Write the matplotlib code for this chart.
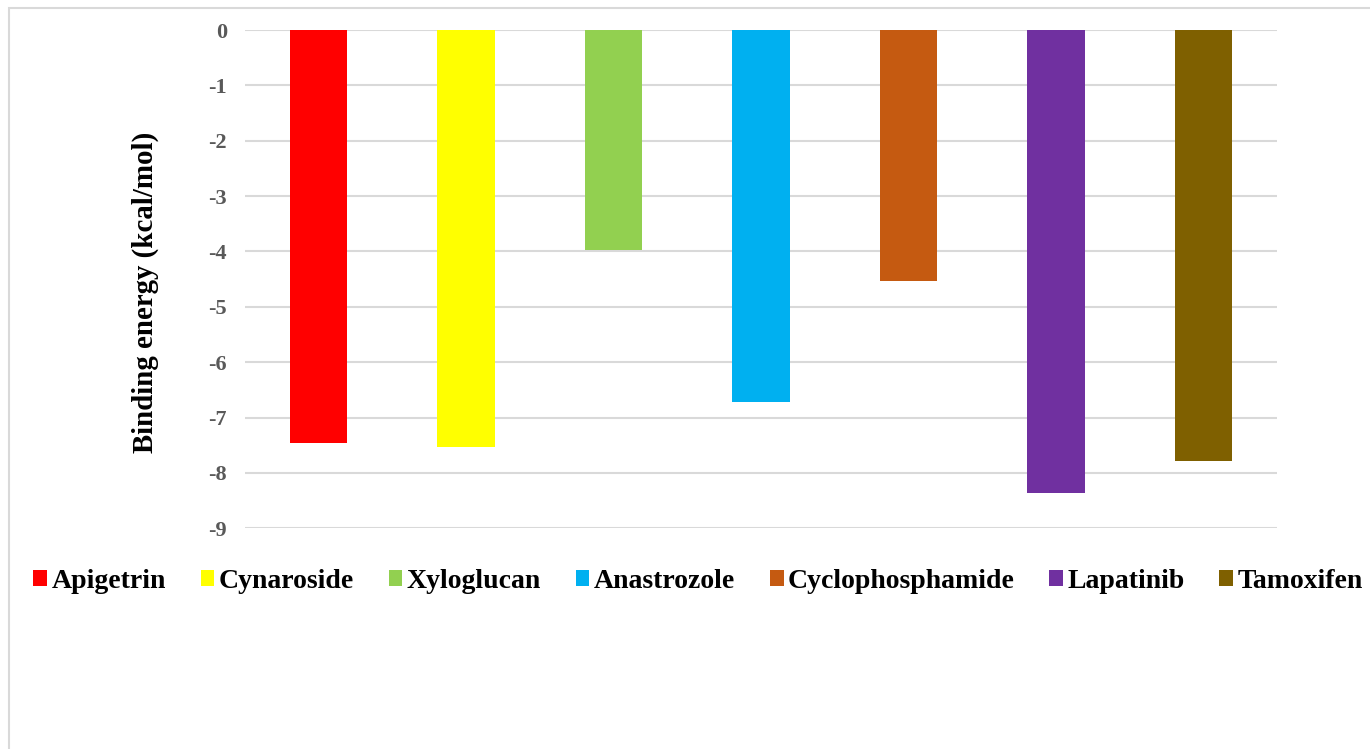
import matplotlib
matplotlib.use("Agg")
import matplotlib.pyplot as plt
from matplotlib.patches import Patch, Rectangle

compounds = ["Apigetrin", "Cynaroside", "Xyloglucan", "Anastrozole",
             "Cyclophosphamide", "Lapatinib", "Tamoxifen"]
binding_energy = [-7.46, -7.53, -3.97, -6.71, -4.53, -8.36, -7.79]
colors = ["#FF0000", "#FFFF00", "#92D050", "#00B0F0",
          "#C55A11", "#7030A0", "#7F6000"]
yticks = [0, -1, -2, -3, -4, -5, -6, -7, -8, -9]

plt.rcParams['font.family'] = ['Liberation Serif', 'DejaVu Serif']

fig = plt.figure(figsize=(13.7, 7.49), dpi=100)
ax = fig.add_axes([245/1370, 1-528.3/749, (1277-245)/1370, (528.3-30)/749])

x = list(range(len(compounds)))
ax.bar(x, binding_energy, width=0.39, color=colors, zorder=3)

ax.set_xlim(-0.5, len(compounds)-0.5)
ax.set_ylim(-9, 0)
ax.set_yticks(yticks)
ax.set_yticklabels([str(t) for t in yticks], fontsize=16, fontweight='bold', color='#595959')
ax.tick_params(axis='y', length=0, pad=13)
ax.set_xticks([])
ax.yaxis.grid(True, color='#D9D9D9', linewidth=1.5, zorder=0)
for s in ax.spines.values():
    s.set_visible(False)
ax.set_ylabel("Binding energy (kcal/mol)", fontsize=20.8, fontweight='bold', color='black')
ax.yaxis.set_label_coords(-(245-159)/1032, 0.5 - 13/498.3)

handles = [Patch(facecolor=c, edgecolor='none', label=n) for c, n in zip(colors, compounds)]
fig.legend(handles=handles, loc='center', bbox_to_anchor=(698/1370, 1-581/749), ncol=7,
           frameon=False, prop={'size': 20, 'weight': 'bold'},
           handlelength=0.5, handleheight=0.5, handletextpad=0.15, columnspacing=1.25)

fig.patches.append(Rectangle((9/1370, -0.1), 1.2, 1-8/749+0.1, transform=fig.transFigure,
                             fill=False, edgecolor='#D9D9D9', linewidth=1.5))

fig.savefig("out.png", dpi=100)
